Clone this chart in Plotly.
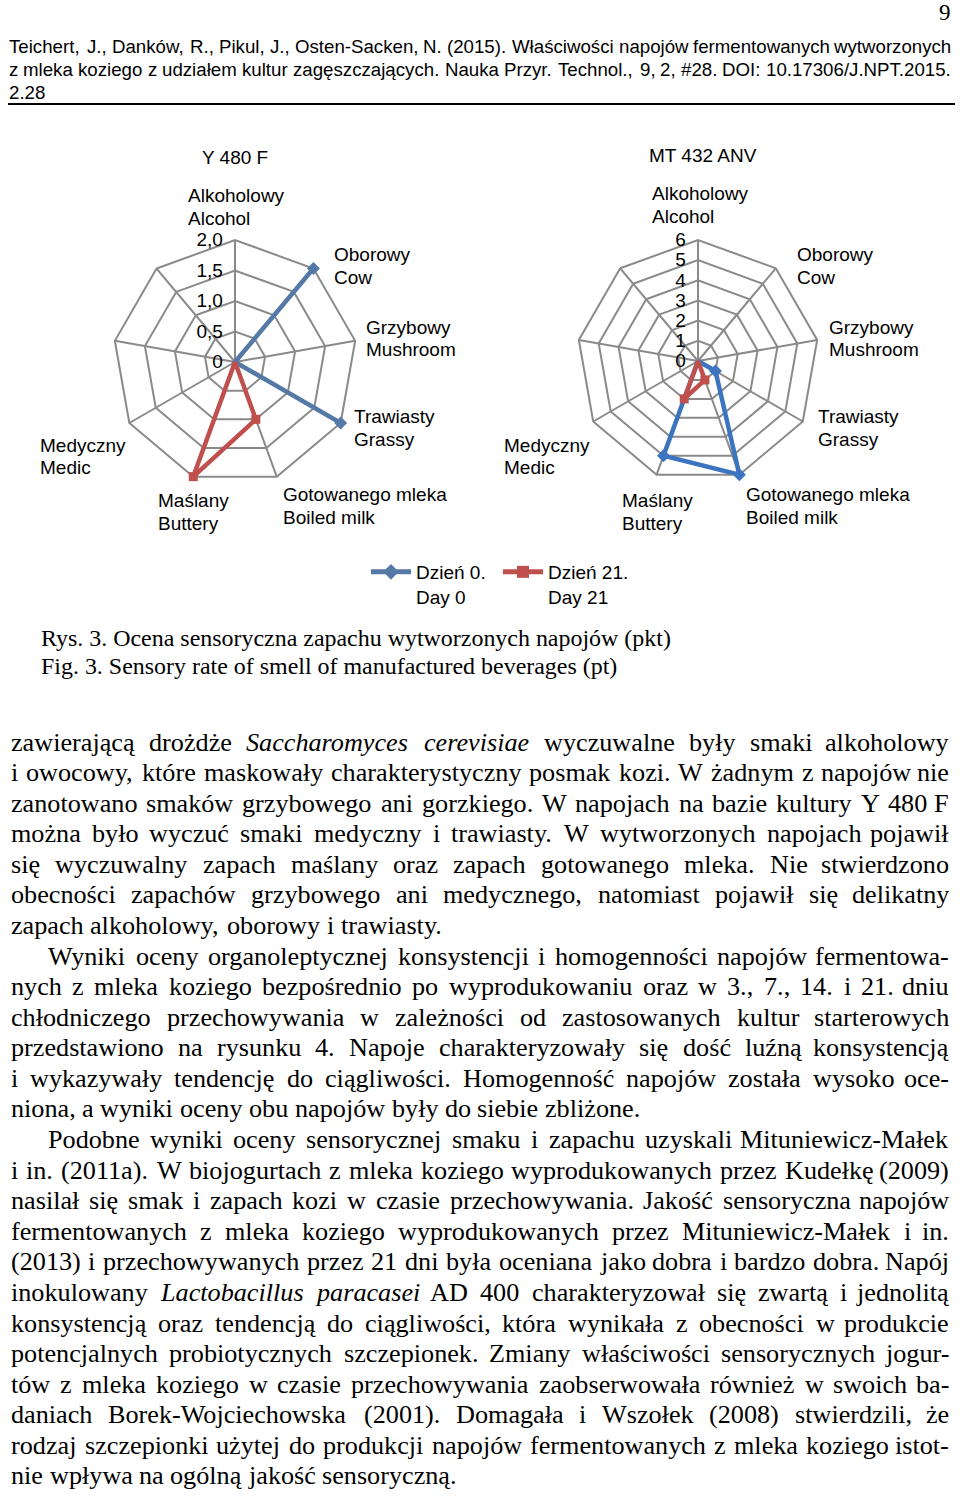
import plotly.graph_objects as go

W, H = 960, 1496

# ---------------- data ----------------
category_ids = ["alk", "obo", "grz", "tra", "got", "mas", "med", "c8", "c9"]
labels_pl = ["Alkoholowy", "Oborowy", "Grzybowy", "Trawiasty", "Gotowanego mleka", "Maślany", "Medyczny", "", ""]
labels_en = ["Alcohol", "Cow", "Mushroom", "Grassy", "Boiled milk", "Buttery", "Medic", "", ""]

y480f_day0 = [0, 2.0, 0, 2.0, 0, 0, 0, 0, 0]
y480f_day21 = [0, 0, 0, 0, 1.0, 2.0, 0, 0, 0]
mt432_day0 = [0, 0, 0, 1, 6, 5, 0, 0, 0]
mt432_day21 = [0, 0, 0, 0, 1, 2, 0, 0, 0]

y480f_tickvals = [0, 0.5, 1.0, 1.5, 2.0]
y480f_ticktext = ["0", "0,5", "1,0", "1,5", "2,0"]
mt432_tickvals = [0, 1, 2, 3, 4, 5, 6]
mt432_ticktext = ["0", "1", "2", "3", "4", "5", "6"]

chart_titles = ["Y 480 F", "MT 432 ANV"]
series_names = ["Dzień 0.<br>Day 0", "Dzień 21.<br>Day 21"]

header_lines = [
    "Teichert, J., Danków, R., Pikul, J., Osten-Sacken, N. (2015). Właściwości napojów fermentowanych wytworzonych",
    "z mleka koziego z udziałem kultur zagęszczających. Nauka Przyr. Technol., 9, 2, #28. DOI: 10.17306/J.NPT.2015.",
    "2.28",
]
page_number = "9"
caption_lines = [
    "Rys. 3. Ocena sensoryczna zapachu wytworzonych napojów (pkt)",
    "Fig. 3. Sensory rate of smell of manufactured beverages (pt)",
]
# (text, mode): J = justified, IJ = indented justified, L = last line of paragraph
body_lines = [
    ("zawierającą drożdże _Saccharomyces_ _cerevisiae_ wyczuwalne były smaki alkoholowy", "J"),
    ("i owocowy, które maskowały charakterystyczny posmak kozi. W żadnym z napojów nie", "J"),
    ("zanotowano smaków grzybowego ani gorzkiego. W napojach na bazie kultury Y 480 F", "J"),
    ("można było wyczuć smaki medyczny i trawiasty. W wytworzonych napojach pojawił", "J"),
    ("się wyczuwalny zapach maślany oraz zapach gotowanego mleka. Nie stwierdzono", "J"),
    ("obecności zapachów grzybowego ani medycznego, natomiast pojawił się delikatny", "J"),
    ("zapach alkoholowy, oborowy i trawiasty.", "L"),
    ("Wyniki oceny organoleptycznej konsystencji i homogenności napojów fermentowa-", "IJ"),
    ("nych z mleka koziego bezpośrednio po wyprodukowaniu oraz w 3., 7., 14. i 21. dniu", "J"),
    ("chłodniczego przechowywania w zależności od zastosowanych kultur starterowych", "J"),
    ("przedstawiono na rysunku 4. Napoje charakteryzowały się dość luźną konsystencją", "J"),
    ("i wykazywały tendencję do ciągliwości. Homogenność napojów została wysoko oce-", "J"),
    ("niona, a wyniki oceny obu napojów były do siebie zbliżone.", "L"),
    ("Podobne wyniki oceny sensorycznej smaku i zapachu uzyskali Mituniewicz-Małek", "IJ"),
    ("i in. (2011a). W biojogurtach z mleka koziego wyprodukowanych przez Kudełkę (2009)", "J"),
    ("nasilał się smak i zapach kozi w czasie przechowywania. Jakość sensoryczna napojów", "J"),
    ("fermentowanych z mleka koziego wyprodukowanych przez Mituniewicz-Małek i in.", "J"),
    ("(2013) i przechowywanych przez 21 dni była oceniana jako dobra i bardzo dobra. Napój", "J"),
    ("inokulowany _Lactobacillus_ _paracasei_ AD 400 charakteryzował się zwartą i jednolitą", "J"),
    ("konsystencją oraz tendencją do ciągliwości, która wynikała z obecności w produkcie", "J"),
    ("potencjalnych probiotycznych szczepionek. Zmiany właściwości sensorycznych jogur-", "J"),
    ("tów z mleka koziego w czasie przechowywania zaobserwowała również w swoich ba-", "J"),
    ("daniach Borek-Wojciechowska (2001). Domagała i Wszołek (2008) stwierdzili, że", "J"),
    ("rodzaj szczepionki użytej do produkcji napojów fermentowanych z mleka koziego istot-", "J"),
    ("nie wpływa na ogólną jakość sensoryczną.", "L"),
]

# ---------------- styles ----------------
SANS = "Liberation Sans, Arial, sans-serif"
SERIF = "Liberation Serif, Times New Roman, serif"
GRID = "#8a8a8a"
BLUE_L = "#5579a6"
BLUE_R = "#3c74c0"
RED = "#c0504d"

# font metrics (1/1000 em) used for text layout
TIMES = dict(zip(" !\"#$%&'()*+,-./0123456789:;<=>?@",
                 [250, 333, 408, 500, 500, 833, 778, 180, 333, 333, 500, 564, 250, 333, 250, 278] + [500] * 10 +
                 [278, 278, 564, 564, 564, 444, 921]))
TIMES.update(dict(zip("ABCDEFGHIJKLMNOPQRSTUVWXYZ",
                      [722, 667, 667, 722, 611, 556, 722, 722, 333, 389, 722, 611, 889, 722, 722, 556, 722, 667, 556,
                       611, 722, 722, 944, 722, 722, 611])))
TIMES.update(dict(zip("abcdefghijklmnopqrstuvwxyz",
                      [444, 500, 444, 500, 444, 333, 500, 500, 278, 278, 500, 278, 778, 500, 500, 500, 500, 333, 389,
                       278, 500, 500, 722, 500, 500, 444])))
TIMES_I = dict(TIMES)
TIMES_I.update(dict(zip("abcdefghijklmnopqrstuvwxyz",
                        [500, 500, 444, 500, 444, 278, 500, 500, 278, 278, 444, 278, 722, 500, 500, 500, 500, 389, 389,
                         278, 500, 444, 667, 444, 444, 389])))
TIMES_I.update({"S": 500, "L": 556, "C": 667})
ARIAL = dict(zip(" !\"#$%&'()*+,-./0123456789:;<=>?@",
                 [278, 278, 355, 556, 556, 889, 667, 191, 333, 333, 389, 584, 278, 333, 278, 278] + [556] * 10 +
                 [278, 278, 584, 584, 584, 556, 1015]))
ARIAL.update(dict(zip("ABCDEFGHIJKLMNOPQRSTUVWXYZ",
                      [667, 667, 722, 722, 667, 611, 778, 722, 278, 500, 667, 556, 833, 722, 778, 667, 778, 722, 667,
                       611, 722, 667, 944, 667, 667, 611])))
ARIAL.update(dict(zip("abcdefghijklmnopqrstuvwxyz",
                      [556, 556, 500, 556, 556, 278, 556, 556, 222, 222, 500, 222, 833, 556, 556, 556, 556, 333, 500,
                       278, 556, 500, 722, 500, 500, 500])))
ACC = {"ą": "a", "ć": "c", "ę": "e", "ł": "l", "ń": "n", "ó": "o", "ś": "s", "ź": "z", "ż": "z",
       "Ł": "L", "Ś": "S", "Ż": "Z", "Ó": "O"}


def text_em(word, table):
    return sum(table.get(ACC.get(ch, ch), 500) for ch in word) / 1000.0


def px(x, y):
    return x / W, 1 - y / H


annotations = []


def add_text(text, x, y, size, family, xanchor="left", color="black"):
    ax, ay = px(x, y)
    annotations.append(dict(text=text, x=ax, y=ay, xref="paper", yref="paper", xanchor=xanchor,
                            yanchor="middle", showarrow=False, borderpad=0,
                            font=dict(family=family, size=size, color=color)))


def add_line(text, x0, x1, y, size, family, table, justify):
    words = text.split(" ")
    items = []
    for w in words:
        italic = w.startswith("_") and w.endswith("_")
        clean = w.strip("_")
        tbl = TIMES_I if (italic and table is TIMES) else table
        items.append((clean, italic, text_em(clean, tbl) * size))
    total = sum(it[2] for it in items)
    space = table[" "] / 1000.0 * size
    if justify and len(items) > 1:
        gap = max((x1 - x0 - total) / (len(items) - 1), 0.1 * size)
    else:
        gap = space
    x = x0
    for i, (w, italic, wd) in enumerate(items):
        t = "<i>%s</i>" % w if italic else w
        if justify and i == len(items) - 1 and len(items) > 1:
            add_text(t, x1, y, size, family, xanchor="right")
        else:
            add_text(t, x, y, size, family)
        x += wd + gap


# ---------------- header ----------------
hdr_size = 944 / (text_em(header_lines[0], ARIAL))
add_line(header_lines[0], 8, 952, 46, hdr_size, SANS, ARIAL, True)
add_line(header_lines[1], 8, 952, 69, hdr_size, SANS, ARIAL, True)
add_line(header_lines[2], 8, 952, 92, hdr_size, SANS, ARIAL, False)
add_text(page_number, 952, 12, 23, SERIF, xanchor="right")

# ---------------- charts ----------------
CHART_SIZE = 19
charts = [
    dict(cx=235, cy=362, r=122, rmax=2.0, tv=y480f_tickvals, tt=y480f_ticktext,
         d0=y480f_day0, d21=y480f_day21, blue=BLUE_L, title_xy=(235, 158),
         label_xy=[(187, 195), (333, 254), (365, 327), (353, 416), (282, 494), (157, 500), (39, 445), None, None]),
    dict(cx=698, cy=361, r=121, rmax=6, tv=mt432_tickvals, tt=mt432_ticktext,
         d0=mt432_day0, d21=mt432_day21, blue=BLUE_R, title_xy=(703, 155),
         label_xy=[(651, 194), (796, 254), (828, 327), (817, 416), (745, 494), (621, 500), (503, 445), None, None]),
]

fig = go.Figure()
layout_polars = {}
for k, c in enumerate(charts):
    pname = "polar" if k == 0 else "polar2"
    sub = "polar" if k == 0 else "polar2"
    theta = category_ids + [category_ids[0]]
    fig.add_trace(go.Scatterpolar(
        r=c["d0"] + [c["d0"][0]], theta=theta, subplot=sub, mode="lines+markers",
        name=series_names[0], legendgroup="d0", showlegend=(k == 0),
        line=dict(color=c["blue"], width=4.5), marker=dict(symbol="diamond", size=10, color=c["blue"])))
    fig.add_trace(go.Scatterpolar(
        r=c["d21"] + [c["d21"][0]], theta=theta, subplot=sub, mode="lines+markers",
        name=series_names[1], legendgroup="d21", showlegend=(k == 0),
        line=dict(color=RED, width=4.5), marker=dict(symbol="square", size=9, color=RED)))
    cx, cy, r = c["cx"], c["cy"], c["r"]
    layout_polars[pname] = dict(
        domain=dict(x=[(cx - r) / W, (cx + r) / W], y=[1 - (cy + r) / H, 1 - (cy - r) / H]),
        bgcolor="white", gridshape="linear", hole=0,
        angularaxis=dict(type="category", categoryarray=category_ids, rotation=90, direction="clockwise",
                         showticklabels=False, ticks="", showgrid=True, gridcolor=GRID, gridwidth=2,
                         showline=True, linecolor=GRID, linewidth=2, layer="below traces"),
        radialaxis=dict(range=[0, c["rmax"]], tickvals=c["tv"], ticktext=c["tt"], angle=90, tickangle=90,
                        side="counterclockwise", showline=False, ticks="outside", ticklen=5,
                        tickcolor="rgba(0,0,0,0)", showgrid=True, gridcolor=GRID,
                        gridwidth=2, tickfont=dict(family=SANS, size=CHART_SIZE, color="black"),
                        layer="below traces"),
    )
    add_text(chart_titles[k], c["title_xy"][0], c["title_xy"][1], CHART_SIZE, SANS, xanchor="center")
    for i, xy in enumerate(c["label_xy"]):
        if xy is None:
            continue
        add_text(labels_pl[i], xy[0], xy[1], CHART_SIZE, SANS)
        add_text(labels_en[i], xy[0], xy[1] + 23, CHART_SIZE, SANS)

# ---------------- caption ----------------
cap_size = 631 / (text_em(caption_lines[0], TIMES))
add_text(caption_lines[0], 40, 638, cap_size, SERIF)
add_text(caption_lines[1], 40, 666, cap_size, SERIF)

# ---------------- body ----------------
BODY_SIZE = 26.2
for i, (txt, mode) in enumerate(body_lines):
    y = 742 + 30.58 * i
    x0 = 47 if mode == "IJ" else 10
    add_line(txt, x0, 950, y, BODY_SIZE, SERIF, TIMES, mode in ("J", "IJ"))

fig.update_layout(
    width=W, height=H, margin=dict(l=0, r=0, t=0, b=0),
    paper_bgcolor="white", plot_bgcolor="white",
    annotations=annotations,
    shapes=[dict(type="line", xref="paper", yref="paper", x0=8 / W, x1=955 / W, y0=1 - 104 / H, y1=1 - 104 / H,
                 line=dict(color="black", width=2))],
    legend=dict(orientation="h", x=366 / W, y=1 - 553 / H, xanchor="left", yanchor="top",
                font=dict(family=SANS, size=CHART_SIZE, color="black"), itemwidth=40,
                entrywidth=77, entrywidthmode="pixels", valign="top", bgcolor="rgba(0,0,0,0)",
                itemsizing="constant"),
    **layout_polars,
)

fig.write_html("out.html", config={"displayModeBar": False},
               post_script="document.body.style.margin='0';document.body.style.overflow='hidden';")
